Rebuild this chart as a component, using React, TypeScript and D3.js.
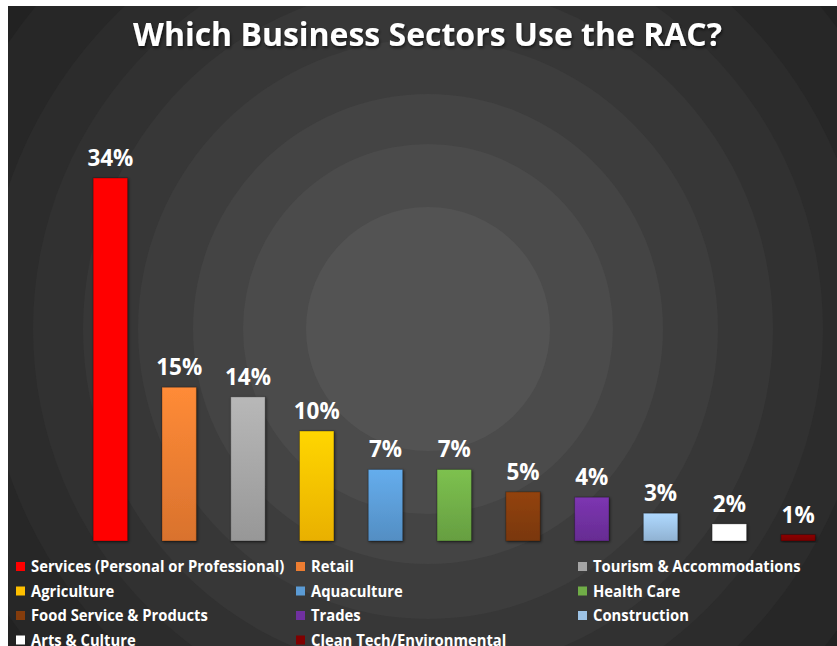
import * as React from 'react';
import * as d3 from 'd3';

const sectors = [
  'Services (Personal or Professional)',
  'Retail',
  'Tourism & Accommodations',
  'Agriculture',
  'Aquaculture',
  'Health Care',
  'Food Service & Products',
  'Trades',
  'Construction',
  'Arts & Culture',
  'Clean Tech/Environmental',
];
// bar heights (percent)
const shares = [34, 14.4, 13.5, 10.3, 6.7, 6.7, 4.6, 4.1, 2.6, 1.6, 0.6];
// labels shown above the bars
const shareLabels = ['34%', '15%', '14%', '10%', '7%', '7%', '5%', '4%', '3%', '2%', '1%'];
const colors = [
  '#ff0000', '#ed7d31', '#a5a5a5', '#ffc000', '#5b9bd5', '#70ad47',
  '#843c0c', '#7030a0', '#9dc3e6', '#ffffff', '#800000',
];

const W = 837;
const H = 646;
const bgX = 8;
const bgY = 6;
const center = { x: 428, y: 329 };
const rings: [number, string][] = [
  [900, '#222222'], [508, '#272727'], [443, '#2c2c2c'], [395, '#313131'],
  [345, '#373737'], [290, '#3d3d3d'], [235, '#444444'], [185, '#4b4b4b'], [122, '#535353'],
];
const font = "'Open Sans', 'Noto Sans', sans-serif";
const legendSquish = 0.955;

export default function App() {
  const baseline = 541;
  const x = d3.scaleBand<string>()
    .domain(sectors)
    .range([76, 832.5])
    .paddingInner(0.5)
    .paddingOuter(0.25);
  const y = d3.scaleLinear().domain([0, 34]).range([baseline, 178]);

  const legendCols = [16, 296, 578];
  const legendRow0 = 572;
  const legendRowStep = 24.5;

  return (
    <svg width={W} height={H} style={{ position: 'absolute', left: 0, top: 0 }}>
      <defs>
        <clipPath id="bgclip">
          <rect x={bgX} y={bgY} width={W - bgX} height={H - bgY} />
        </clipPath>
        <filter id="shadow" x="-30%" y="-10%" width="160%" height="130%">
          <feDropShadow dx="1" dy="1" stdDeviation="1.5" floodColor="#000" floodOpacity="0.55" />
        </filter>
        <filter id="tshadow" x="-5%" y="-20%" width="110%" height="150%">
          <feDropShadow dx="1" dy="2" stdDeviation="1.5" floodColor="#000" floodOpacity="0.6" />
        </filter>
        {colors.map((c, i) => {
          const top = d3.color(c)!.brighter(0.3).formatHex();
          const bot = d3.color(c)!.darker(0.25).formatHex();
          const flat = i === 0 || i === 9;
          return (
            <linearGradient key={i} id={`g${i}`} x1="0" y1="0" x2="0" y2="1">
              <stop offset="0" stopColor={flat ? c : top} />
              <stop offset="1" stopColor={flat ? c : bot} />
            </linearGradient>
          );
        })}
      </defs>
      <rect x={0} y={0} width={W} height={H} fill="#ffffff" />
      <g clipPath="url(#bgclip)">
        {rings.map(([r, c], i) => (
          <circle key={i} cx={center.x} cy={center.y} r={r} fill={c} />
        ))}
      </g>

      <text
        x={427.5}
        y={46}
        textAnchor="middle"
        fontFamily={font}
        fontWeight="bold"
        fontSize={33}
        fill="#ffffff"
        textLength={589}
        lengthAdjust="spacingAndGlyphs"
        filter="url(#tshadow)"
      >
        Which Business Sectors Use the RAC?
      </text>

      <g>
        {sectors.map((s, i) => {
          const bx = x(s)!;
          const by = y(shares[i]);
          return (
            <g key={s}>
              <rect
                x={bx}
                y={by}
                width={x.bandwidth()}
                height={baseline - by}
                fill={`url(#g${i})`}
                stroke="rgba(0,0,0,0.25)"
                strokeWidth={1}
                filter="url(#shadow)"
              />
              <text
                x={bx + x.bandwidth() / 2}
                y={by - 12}
                textAnchor="middle"
                fontFamily={font}
                fontWeight="bold"
                fontSize={22.5}
                fill="#ffffff"
              >
                {shareLabels[i]}
              </text>
            </g>
          );
        })}
      </g>

      <g>
        {sectors.map((s, i) => {
          const col = i % 3;
          const row = Math.floor(i / 3);
          const lx = legendCols[col];
          const ly = legendRow0 + row * legendRowStep;
          return (
            <g key={s}>
              <rect x={lx} y={ly - 10} width={9} height={9} fill={colors[i]} />
              <text
                transform={`translate(${lx + 15},${ly}) scale(${legendSquish},1)`}
                fontFamily={font}
                fontWeight="bold"
                fontSize={15.5}
                fill="#ffffff"
              >
                {s}
              </text>
            </g>
          );
        })}
      </g>
    </svg>
  );
}
